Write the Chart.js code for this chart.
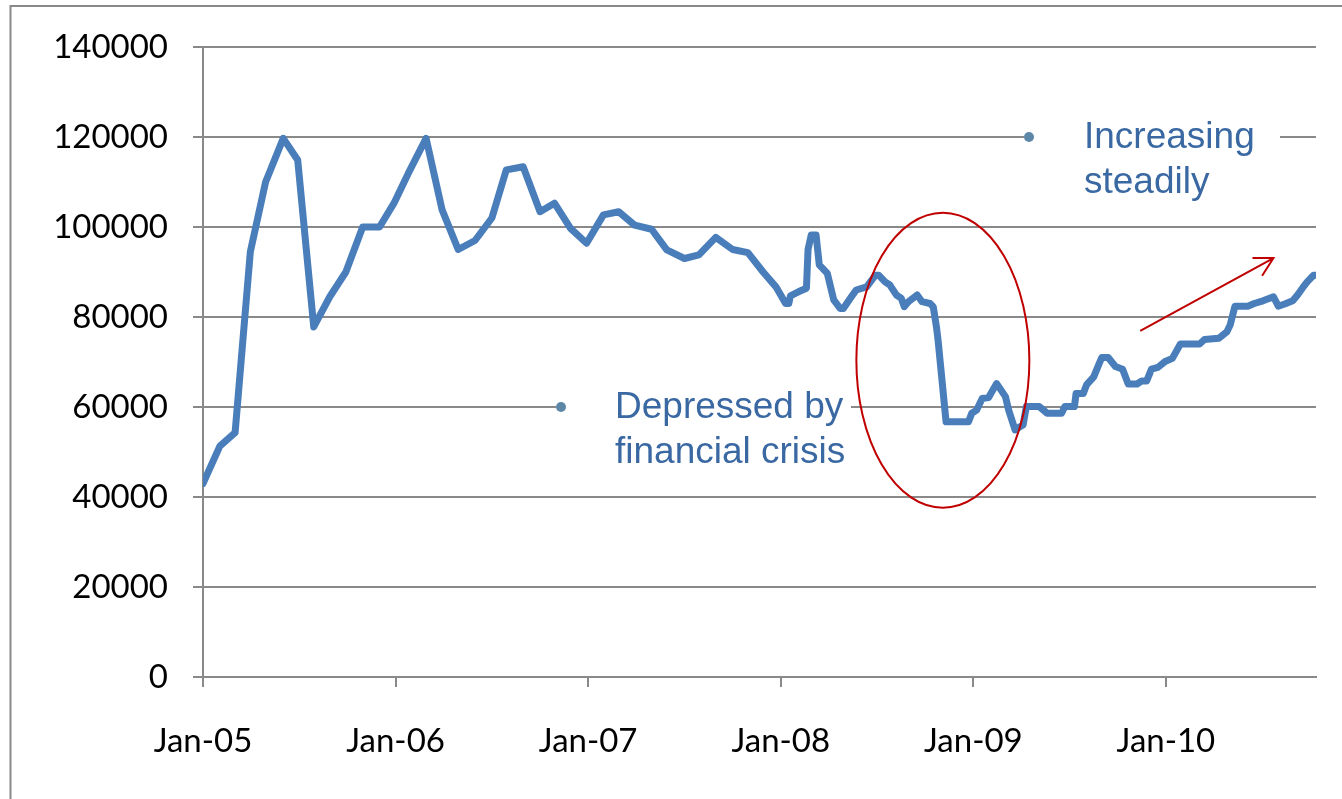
<!DOCTYPE html>
<html>
<head>
<meta charset="utf-8">
<script src="https://cdn.jsdelivr.net/npm/chart.js@4/dist/chart.umd.min.js"></script>
<style>
  html, body { margin: 0; padding: 0; background: #fff; overflow: hidden; }
  #wrap { width: 1342px; height: 799px; }
</style>
</head>
<body>
<div id="wrap"><canvas id="chart" width="1342" height="799"></canvas></div>
<script>
// x = months since Jan-05, y = value
const months = [
  0, 1.05, 2, 2.95, 3.9, 5, 5.9, 6.9, 7.9, 8.9, 9.95, 11, 11.9,
  12.9, 13.9, 14.9, 15.9, 16.95, 18, 18.9, 19.95, 21, 21.9, 22.9, 23.9,
  24.95, 25.9, 26.9, 27.95, 28.9, 30, 30.9, 31.95, 33, 33.95, 34.9,
  35.7, 36.3, 36.5, 36.6, 37.1, 37.6, 37.7, 37.9, 38.2, 38.4, 38.9, 39.3, 39.7, 39.9,
  40.4, 40.7, 41.35, 41.9, 42.1, 42.5, 42.8, 43.2, 43.5, 43.7, 43.95, 44.5, 44.8,
  45.3, 45.5, 45.7, 45.8, 46.3, 47.7, 47.9, 48.2, 48.55, 48.95, 49.45, 50, 50.2,
  50.6, 50.9, 51.1, 51.3, 52.1, 52.6, 53.5, 53.7, 54.3, 54.4, 54.85, 55.05, 55.5,
  55.8, 56, 56.4, 56.85, 57.3, 57.65, 58.2, 58.5, 58.8, 59.1, 59.5, 59.95,
  60.4, 60.9, 62.1, 62.4, 63.3, 63.8, 64, 64.3, 65.1, 65.5, 66.05, 66.7, 67,
  67.4, 67.9, 68.2, 68.5, 68.8, 69.2, 69.35
];
const values = [
  43000, 51300, 54300, 94500, 110000, 119700, 114900, 77800, 84500, 90000, 100000, 100000, 105300,
  112700, 119700, 103800, 95000, 97000, 102000, 112700, 113400, 103400, 105300, 99700, 96400,
  102700, 103400, 100400, 99500, 94900, 93000, 93800, 97700, 95000, 94300, 90000,
  86700, 83000, 83000, 84700, 85600, 86400, 95000, 98200, 98200, 91600, 89700, 83800, 81900, 81900,
  84500, 86000, 86700, 89300, 89300, 87800, 87100, 84900, 84200, 82300, 83400, 84900, 83400,
  83000, 82300, 77800, 74900, 56700, 56700, 58600, 59300, 61900, 62100, 65200, 62300, 59300,
  54900, 55600, 56000, 60100, 60100, 58600, 58600, 60100, 60100, 63000, 63000, 64900, 66700,
  69300, 71000, 71000, 69000, 68400, 65100, 65100, 65800, 65800, 68400, 68800, 70100,
  70800, 74000, 74000, 75000, 75300, 76700, 78200, 82400, 82400, 83000, 83600, 84500, 82400,
  82900, 83600, 84900, 86400, 87800, 89300, 89300
];

const xTickMonths = [0, 12, 24, 36, 48, 60];
const xTickLabels = ["Jan-05", "Jan-06", "Jan-07", "Jan-08", "Jan-09", "Jan-10"];
const yTicks = [0, 20000, 40000, 60000, 80000, 100000, 120000, 140000];

const noteCrisis = ["Depressed by", "financial crisis"];
const noteRise = ["Increasing", "steadily"];

const gridColor = "#898989";

const decorations = {
  id: "decorations",
  beforeDraw(chart) {
    const ctx = chart.ctx;
    ctx.save();
    ctx.fillStyle = "#fff";
    ctx.fillRect(0, 0, chart.width, chart.height);
    ctx.strokeStyle = gridColor;
    ctx.lineWidth = 2;
    ctx.strokeRect(10.5, 6, 1400, 900);
    ctx.restore();
  },
  afterDraw(chart) {
    const ctx = chart.ctx;
    const x = chart.scales.x, y = chart.scales.y;

    // text boxes with bullet
    function note(lines, boxLeft, boxRight, yVal, textX) {
      const cy = y.getPixelForValue(yVal);
      ctx.fillStyle = "#fff";
      ctx.fillRect(boxLeft, cy - 22, boxRight - boxLeft, 90);
      ctx.fillStyle = "#5D87A7";
      ctx.beginPath();
      ctx.arc(boxLeft + 5, cy, 5, 0, Math.PI * 2);
      ctx.fill();
      ctx.fillStyle = "#3A68A2";
      ctx.font = "37px 'Liberation Sans', Arial, sans-serif";
      ctx.textBaseline = "middle";
      ctx.textAlign = "left";
      lines.forEach((t, i) => ctx.fillText(t, textX, cy + i * 45 + 1));
    }
    ctx.save();
    note(noteCrisis, 556, 851, 60000, 615);
    note(noteRise, 1024, 1280, 120000, 1084);

    // red ellipse around the crisis dip
    ctx.strokeStyle = "#C00000";
    ctx.lineWidth = 2;
    ctx.beginPath();
    ctx.ellipse(x.getPixelForValue(46.1), y.getPixelForValue(70400), 86.5, 147.5, 0, 0, Math.PI * 2);
    ctx.stroke();

    // red arrow
    const x0 = x.getPixelForValue(58.4), y0 = y.getPixelForValue(76900);
    const x1 = x.getPixelForValue(66.7), y1 = y.getPixelForValue(93100);
    ctx.beginPath();
    ctx.moveTo(x0, y0);
    ctx.lineTo(x1, y1);
    const a = Math.atan2(y1 - y0, x1 - x0);
    const len = 21;
    ctx.moveTo(x1 - len * Math.cos(a - 0.5), y1 - len * Math.sin(a - 0.5));
    ctx.lineTo(x1, y1);
    ctx.lineTo(x1 - len * Math.cos(a + 0.5), y1 - len * Math.sin(a + 0.5));
    ctx.stroke();
    ctx.restore();
  }
};

new Chart(document.getElementById("chart"), {
  type: "line",
  data: {
    datasets: [{
      data: months.map((m, i) => ({ x: m, y: values[i] })),
      borderColor: "#4A7EBB",
      borderWidth: 7,
      borderJoinStyle: "round",
      borderCapStyle: "round",
      pointRadius: 0,
      tension: 0,
      fill: false
    }]
  },
  options: {
    responsive: false,
    animation: false,
    events: [],
    layout: { padding: { top: 47, right: 26, left: 0, bottom: 0 } },
    plugins: { legend: { display: false }, tooltip: { enabled: false } },
    scales: {
      x: {
        type: "linear",
        min: 0,
        max: 69.35,
        afterFit: (s) => { s.height = 122; },
        afterBuildTicks: (s) => { s.ticks = xTickMonths.map(v => ({ value: v })); },
        grid: { drawOnChartArea: false, drawTicks: true, tickLength: 10, color: gridColor, lineWidth: 2 },
        border: { color: gridColor, width: 2 },
        ticks: {
          autoSkip: false,
          maxRotation: 0,
          padding: 35,
          color: "#000",
          font: { family: "Lato", size: 33 },
          callback: (v) => xTickLabels[xTickMonths.indexOf(v)]
        }
      },
      y: {
        min: 0,
        max: 140000,
        afterFit: (s) => { s.width = 203; },
        afterBuildTicks: (s) => { s.ticks = yTicks.map(v => ({ value: v })); },
        grid: { color: gridColor, lineWidth: 2, tickLength: 10 },
        border: { color: gridColor, width: 2 },
        ticks: {
          padding: 25,
          color: "#000",
          font: { family: "Lato", size: 33 },
          callback: (v) => String(v)
        }
      }
    }
  },
  plugins: [decorations]
});
</script>
</body>
</html>
